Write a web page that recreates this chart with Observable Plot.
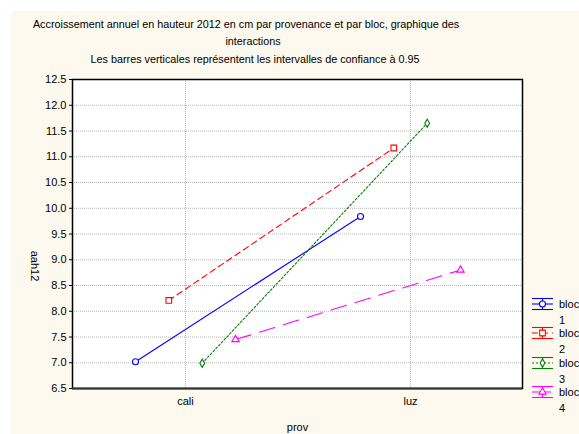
<!DOCTYPE html>
<html>
<head>
<meta charset="utf-8">
<script src="https://cdn.jsdelivr.net/npm/d3@7"></script>
<script src="https://cdn.jsdelivr.net/npm/@observablehq/plot@0.6"></script>
<style>
  html, body { margin:0; padding:0; background:#fff; overflow:hidden; }
  #wrap { position:relative; width:579px; height:434px; background:#fff; font-family:"Liberation Sans", Arial, sans-serif; color:#000; }
  #cream { position:absolute; left:11px; top:11px; right:0; bottom:0; background:#fdf9ee; }
  .t { position:absolute; font-size:10.8px; white-space:nowrap; transform:translateX(-50%); line-height:13px; }
  #ylab { position:absolute; left:35px; top:266px; font-size:11px; transform:translate(-50%,-50%) rotate(90deg); white-space:nowrap; }
  #chart { position:absolute; left:0; top:0; }
  #legend { position:absolute; left:531px; top:0; font-size:11px; }
  .item { position:absolute; left:0; width:60px; }
  .item svg { position:absolute; left:0; top:0; }
  .item .lab { position:absolute; left:28px; top:-8px; line-height:16px; }
</style>
</head>
<body>
<div id="wrap">
  <div id="cream"></div>
  <div class="t" style="left:246px; top:18px;">Accroissement annuel en hauteur 2012 en cm par provenance et par bloc, graphique des</div>
  <div class="t" style="left:253px; top:35px;">interactions</div>
  <div class="t" style="left:255px; top:53px;">Les barres verticales représentent les intervalles de confiance à 0.95</div>
  <div id="ylab">aah12</div>
  <div id="chart"></div>
  <div id="legend"></div>
</div>
<script>
// ---- data ----
const prov = ["cali", "luz"];
const blocs = ["bloc 1", "bloc 2", "bloc 3", "bloc 4"];
const bloc1 = [7.02, 9.84];
const bloc2 = [8.21, 11.17];
const bloc3 = [6.99, 11.65];
const bloc4 = [7.45, 8.80];
const yTicks = [6.5, 7.0, 7.5, 8.0, 8.5, 9.0, 9.5, 10.0, 10.5, 11.0, 11.5, 12.0, 12.5];

// ---- styles ----
const seriesValues = [bloc1, bloc2, bloc3, bloc4];
const colors = ["#0000ff", "#ff0000", "#008000", "#ff00ff"];
const dashes = [null, "6,4", "2,2", "16,9"];
const symbols = ["circle", "square", "diamond", "triangle"];
const offsets = [-50, -16.7, 16.7, 50];
const radii = [3, 3.2, 2.5, 2.7];

const seriesMarks = [];
seriesValues.forEach((vals, i) => {
  const rows = prov.map((p, j) => ({prov: p, aah12: vals[j], bloc: blocs[i]}));
  seriesMarks.push(Plot.line(rows, {x: "prov", y: "aah12", dx: offsets[i], stroke: colors[i], strokeWidth: 1.1, strokeDasharray: dashes[i]}));
  seriesMarks.push(Plot.dot(rows, {x: "prov", y: "aah12", dx: offsets[i], stroke: colors[i], fill: "white", symbol: symbols[i], r: radii[i], strokeWidth: 1.1}));
});

const fmt = d => d.toFixed(1);
const chart = Plot.plot({
  width: 579, height: 434,
  marginLeft: 72, marginRight: 57, marginTop: 79, marginBottom: 46,
  style: {background: "transparent", fontFamily: "'Liberation Sans', Arial, sans-serif", fontSize: "11px", color: "#000", overflow: "visible"},
  x: {type: "point", domain: prov, padding: 0.5},
  y: {domain: [6.5, 12.5]},
  marks: [
    Plot.frame({fill: "white", stroke: null}),
    Plot.gridY(yTicks, {stroke: "#b4b4b4", strokeOpacity: 1, strokeDasharray: "1,1"}),
    Plot.gridX(prov, {stroke: "#b4b4b4", strokeOpacity: 1, strokeDasharray: "1,1"}),
    ...seriesMarks,
    Plot.axisY(yTicks, {tickSize: 3, tickPadding: 3, tickFormat: fmt, label: null}),
    Plot.axisX(prov, {tickSize: 0, tickPadding: 9, label: "prov", labelAnchor: "center", labelArrow: "none", labelOffset: 42}),
    Plot.frame({stroke: "#000", strokeWidth: 1.5}),
    Plot.ruleY([6.5], {stroke: "#333", strokeWidth: 2})
  ]
});
document.getElementById("chart").appendChild(chart);

// ---- legend ----
const legendTops = [304, 333, 363, 392];
const leg = document.getElementById("legend");
blocs.forEach((b, i) => {
  const item = document.createElement("div");
  item.className = "item";
  item.style.top = legendTops[i] + "px";
  const svg = d3.create("svg").attr("width", 24).attr("height", 14).style("top", "-7px").style("overflow", "visible");
  const g = svg.append("g").attr("stroke", colors[i]).attr("fill", "none").attr("stroke-width", 1.1);
  g.append("line").attr("x1", 1).attr("x2", 22).attr("y1", 1.5).attr("y2", 1.5);
  g.append("line").attr("x1", 1).attr("x2", 22).attr("y1", 12.5).attr("y2", 12.5);
  g.append("line").attr("x1", 11.5).attr("x2", 11.5).attr("y1", 1.5).attr("y2", 12.5);
  g.append("line").attr("x1", 1).attr("x2", 22).attr("y1", 7).attr("y2", 7).attr("stroke-dasharray", i === 3 ? "8,3" : dashes[i]);
  const symType = [d3.symbolCircle, d3.symbolSquare, d3.symbolDiamond, d3.symbolTriangle][i];
  g.append("path").attr("d", d3.symbol(symType, Math.PI * radii[i] * radii[i])()).attr("transform", "translate(11.5,7)").attr("fill", "white");
  item.appendChild(svg.node());
  const lab = document.createElement("div");
  lab.className = "lab";
  const parts = b.split(" ");
  lab.innerHTML = parts[0] + "<br>" + parts[1];
  item.appendChild(lab);
  leg.appendChild(item);
});
</script>
</body>
</html>
